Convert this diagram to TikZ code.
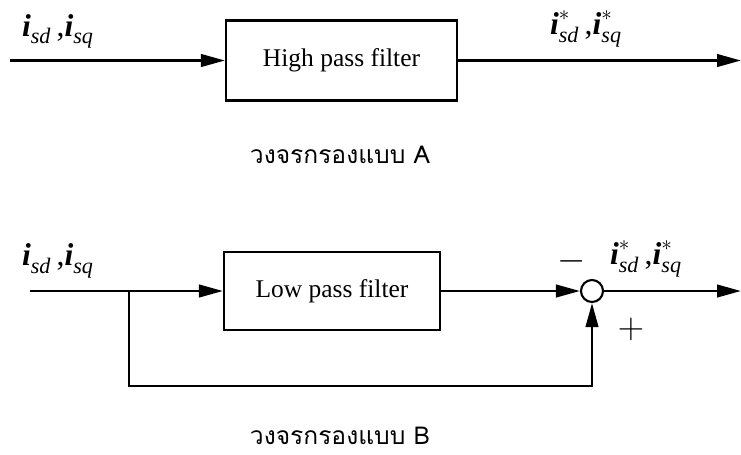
\documentclass[tikz,border=0pt]{standalone}
\usepackage{amsmath}
\usepackage{fontspec}
\setmainfont{Liberation Serif}
\newfontfamily\thaifont[Script=Thai]{Loma}
\usetikzlibrary{arrows.meta, positioning}

\newcommand{\cur}[2]{$\textbf{\textit{i}}^{#1}_{\textit{#2}}$}

\begin{document}
\begin{tikzpicture}[
    block/.style  = {draw, line width=1.2pt, minimum width=4.62cm, minimum height=1.6cm, font=\fontsize{14.5}{16}\selectfont},
    sumnode/.style = {circle, draw, line width=1.2pt, inner sep=0pt, minimum size=4.4mm},
    signal/.style = {line width=1.5pt, -{Triangle[length=4.8mm, width=2.5mm]}},
    wire/.style   = {line width=1.5pt},
    lbl/.style    = {font=\fontsize{18}{20}\selectfont},
    sign/.style   = {font=\fontsize{22}{24}\selectfont},
    caption/.style = {font=\thaifont\fontsize{14}{16}\selectfont}
]
\useasboundingbox (0,0) rectangle (14.82,9.08);

% Circuit A
\coordinate (inA) at (0.2, 7.87);
\node (hpf) [block] at (6.83, 7.87) {High pass filter};
\coordinate (outA) at (14.82, 7.87);
\draw [signal] (inA) -- (hpf);
\draw [signal] (hpf) -- (outA);

\node (labInA)  [lbl] at (1.16, 8.45) {\cur{}{sd}\,,\cur{}{sq}};
\node (labOutA) [lbl] at (11.72, 8.5) {\cur{*}{sd}\,,\cur{*}{sq}};
\node (capA) [caption] at (6.8, 5.98) {วงจรกรองแบบ A};

% Circuit B
\coordinate (inB) at (0.6, 3.26);
\coordinate (split) at (2.58, 3.26);
\node (lpf) [block, minimum width=4.32cm, minimum height=1.56cm] at (6.64, 3.26) {Low pass filter};
\node (sum) [sumnode] at (11.84, 3.26) {};
\coordinate (outB) at (14.82, 3.26);
\coordinate (fbk) at (2.58, 1.36);

\draw [wire] (inB) -- (split);
\draw [signal] (split) -- (lpf);
\draw [signal] (lpf) -- (sum);
\draw [signal] (sum) -- (outB);
\draw [signal] (split) -- (fbk) -| (sum.south);

\node (minus) [sign] at (11.44, 3.86) {$-$};
\node (plus)  [sign] at (12.62, 2.5) {$+$};
\node (labInB)  [lbl] at (1.16, 3.86) {\cur{}{sd}\,,\cur{}{sq}};
\node (labOutB) [lbl] at (12.92, 3.9) {\cur{*}{sd}\,,\cur{*}{sq}};
\node (capB) [caption] at (6.8, 0.36) {วงจรกรองแบบ B};

\end{tikzpicture}
\end{document}
